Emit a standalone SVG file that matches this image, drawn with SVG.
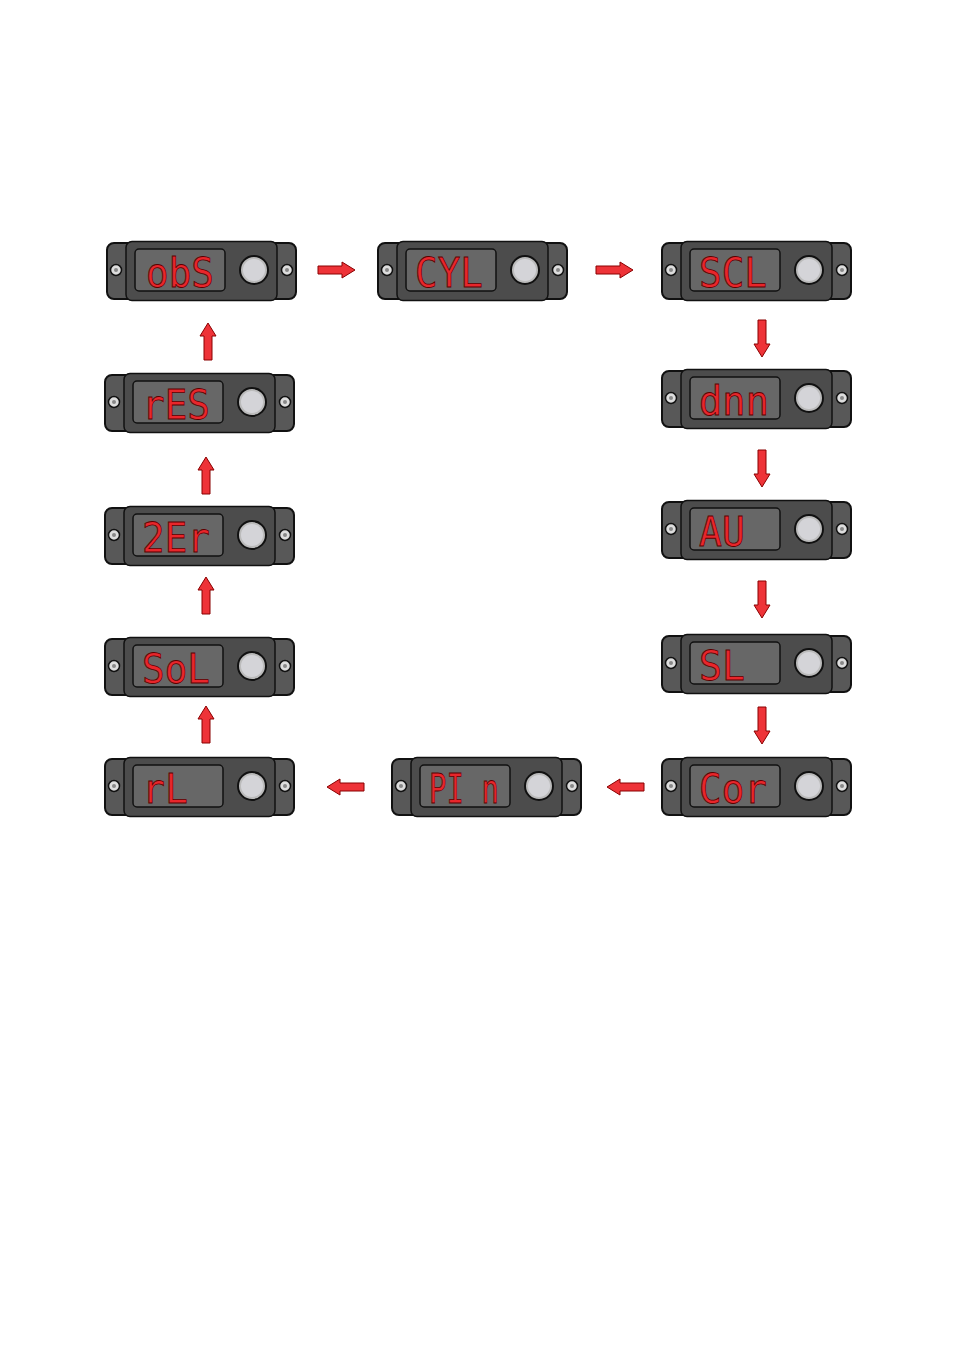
<svg xmlns="http://www.w3.org/2000/svg" xmlns:xlink="http://www.w3.org/1999/xlink" width="954" height="1351" viewBox="0 0 954 1351">
<style>
.lbl{font-family:"DejaVu Sans Mono","Liberation Mono",monospace;font-size:40px;fill:#e8262b;stroke:#5a0000;stroke-width:0.8}
.arr{fill:#ee3338;stroke:#8a0000;stroke-width:1}
</style>
<defs>
<g id="dev">
<rect x="1" y="2" width="189" height="56" rx="7" fill="#585858" stroke="#111" stroke-width="2"/>
<rect x="20" y="0.5" width="151" height="59" rx="6" fill="#4c4c4c" stroke="#111" stroke-width="1.5"/>
<rect x="29" y="8" width="90" height="42" rx="4" fill="#676767" stroke="#111" stroke-width="1.5"/>
<circle cx="148" cy="29" r="14" fill="#bbb" stroke="#111" stroke-width="2"/>
<circle cx="148" cy="29" r="11" fill="#d4d4d8"/>
<circle cx="10" cy="29" r="5.5" fill="#ddd" stroke="#111" stroke-width="1.5"/>
<circle cx="10" cy="29" r="2" fill="#888"/>
<circle cx="181" cy="29" r="5.5" fill="#ddd" stroke="#111" stroke-width="1.5"/>
<circle cx="181" cy="29" r="2" fill="#888"/>
</g>
<polygon id="arrow" class="arr" points="0,-4 24,-4 24,-8 37,0 24,8 24,4 0,4"/>
</defs>
<rect width="954" height="1351" fill="#fff"/>
<g id="obS" transform="translate(106,241)"><use xlink:href="#dev"/><text class="lbl" x="40" y="46" textLength="68" lengthAdjust="spacingAndGlyphs">obS</text></g>
<g id="CYL" transform="translate(377,241)"><use xlink:href="#dev"/><text class="lbl" x="38" y="46" textLength="68" lengthAdjust="spacingAndGlyphs">CYL</text></g>
<g id="SCL" transform="translate(661,241)"><use xlink:href="#dev"/><text class="lbl" x="38" y="46" textLength="68" lengthAdjust="spacingAndGlyphs">SCL</text></g>
<g id="dnn" transform="translate(661,369)"><use xlink:href="#dev"/><text class="lbl" x="38" y="46" textLength="70" lengthAdjust="spacingAndGlyphs">dnn</text></g>
<g id="AU" transform="translate(661,500)"><use xlink:href="#dev"/><text class="lbl" x="38" y="46" textLength="46" lengthAdjust="spacingAndGlyphs">AU</text></g>
<g id="SL" transform="translate(661,634)"><use xlink:href="#dev"/><text class="lbl" x="38" y="46" textLength="46" lengthAdjust="spacingAndGlyphs">SL</text></g>
<g id="Cor" transform="translate(661,757)"><use xlink:href="#dev"/><text class="lbl" x="38" y="46" textLength="68" lengthAdjust="spacingAndGlyphs">Cor</text></g>
<g id="PIn" transform="translate(391,757)"><use xlink:href="#dev"/><text class="lbl" x="38" y="46" textLength="70" lengthAdjust="spacingAndGlyphs">PI n</text></g>
<g id="rL" transform="translate(104,757)"><use xlink:href="#dev"/><text class="lbl" x="38" y="46" textLength="46" lengthAdjust="spacingAndGlyphs">rL</text></g>
<g id="SoL" transform="translate(104,637)"><use xlink:href="#dev"/><text class="lbl" x="38" y="46" textLength="68" lengthAdjust="spacingAndGlyphs">SoL</text></g>
<g id="2Er" transform="translate(104,506)"><use xlink:href="#dev"/><text class="lbl" x="38" y="46" textLength="68" lengthAdjust="spacingAndGlyphs">2Er</text></g>
<g id="rES" transform="translate(104,373)"><use xlink:href="#dev"/><text class="lbl" x="38" y="46" textLength="68" lengthAdjust="spacingAndGlyphs">rES</text></g>
<g id="connectors">
<use xlink:href="#arrow" transform="translate(318,270)"/>
<use xlink:href="#arrow" transform="translate(596,270)"/>
<use xlink:href="#arrow" transform="translate(762,320) rotate(90)"/>
<use xlink:href="#arrow" transform="translate(762,450) rotate(90)"/>
<use xlink:href="#arrow" transform="translate(762,581) rotate(90)"/>
<use xlink:href="#arrow" transform="translate(762,707) rotate(90)"/>
<use xlink:href="#arrow" transform="translate(644,787) rotate(180)"/>
<use xlink:href="#arrow" transform="translate(364,787) rotate(180)"/>
<use xlink:href="#arrow" transform="translate(206,743) rotate(-90)"/>
<use xlink:href="#arrow" transform="translate(206,614) rotate(-90)"/>
<use xlink:href="#arrow" transform="translate(206,494) rotate(-90)"/>
<use xlink:href="#arrow" transform="translate(208,360) rotate(-90)"/>
</g>
</svg>
